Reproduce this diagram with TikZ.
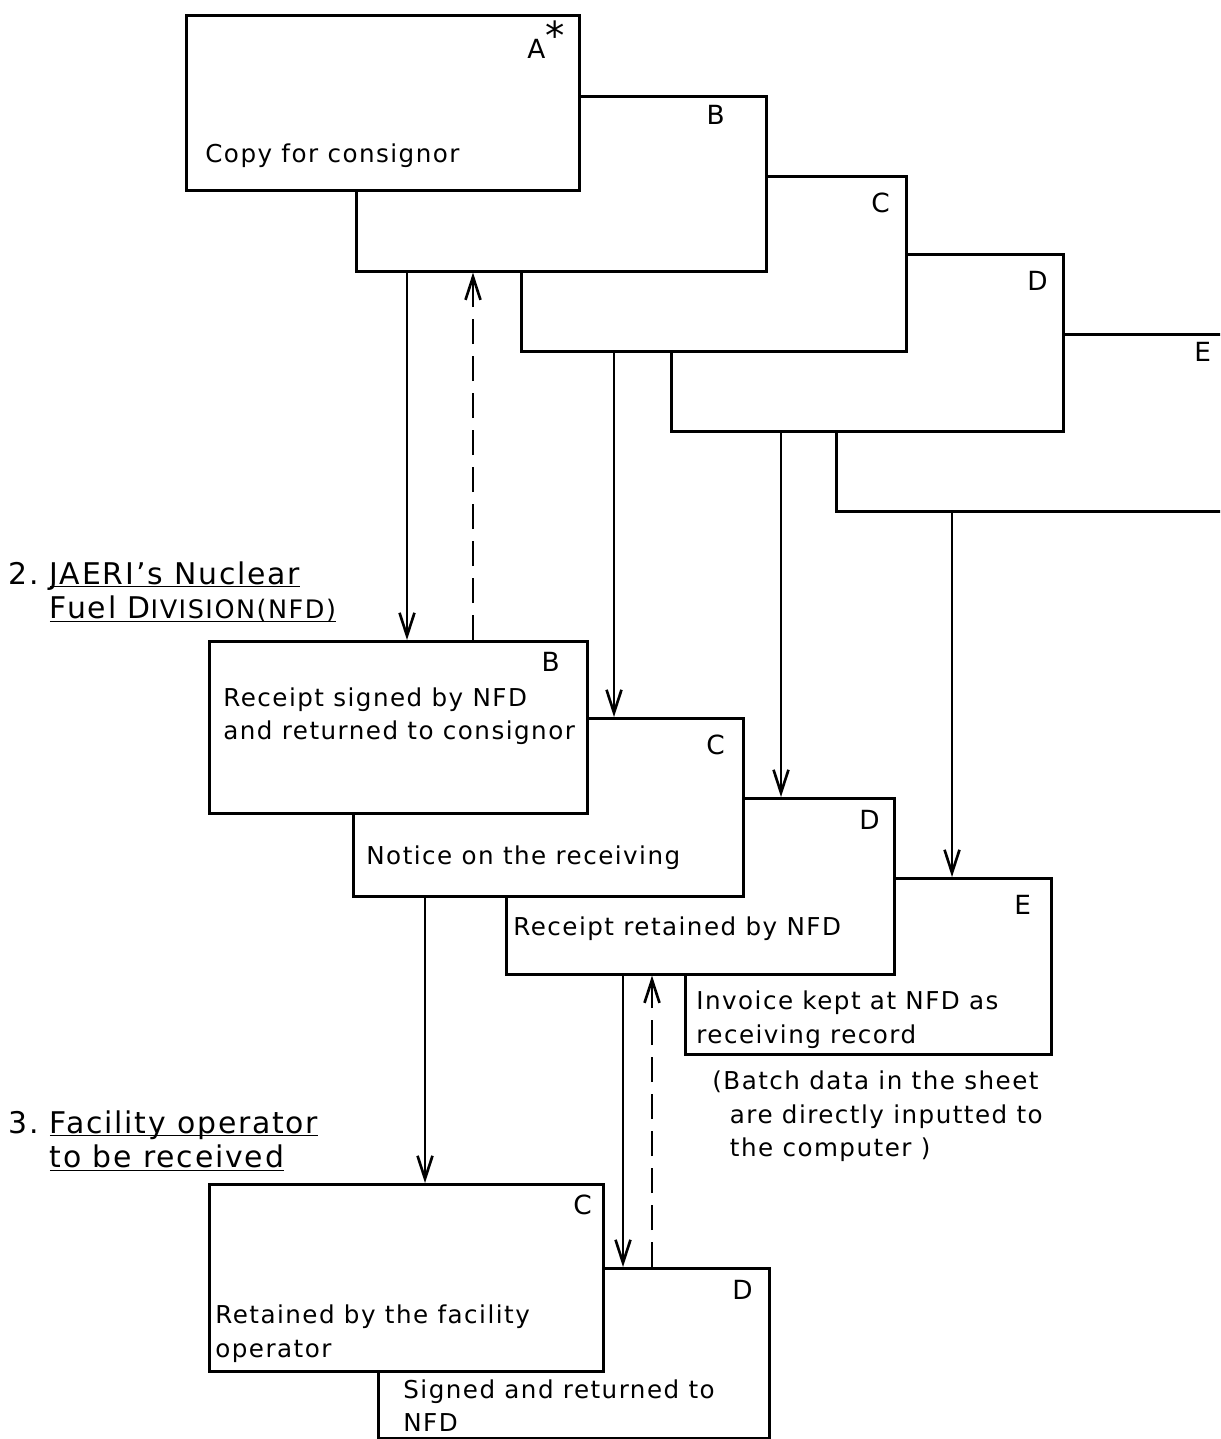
\documentclass[tikz,border=0pt]{standalone}
\usepackage{fontspec}
\setmainfont{DejaVu Sans}[LetterSpace=6]
\usetikzlibrary{arrows.meta,positioning,calc}

\newcommand{\undl}[1]{\underline{\smash{#1}}}

\begin{document}
\begin{tikzpicture}[
  x=0.02cm, y=-0.02cm,
  sheet/.style={draw, fill=white, line width=1.5pt, inner sep=0pt, anchor=north west},
  tag/.style={font=\fontsize{15}{15}\selectfont, inner sep=0pt},
  txt/.style={font=\fontsize{14}{19}\selectfont, align=left, inner sep=0pt, anchor=west},
  head/.style={font=\fontsize{17}{19.5}\selectfont, align=left, inner sep=0pt, anchor=west},
  arr/.style={line width=1.5pt, -{Straight Barb[length=4.6mm, width=3mm]}},
  back/.style={arr, dash pattern=on 5mm off 2.4mm}
]
\useasboundingbox (0,0) rectangle (1220,1439);
\clip (0,0) rectangle (1220,1439);

% 1. sheets as they leave the consignor
\node[sheet, minimum width=7.86cm, minimum height=3.54cm] (Et) at (835,333) {};
\node[sheet, minimum width=7.84cm, minimum height=3.54cm] (Dt) at (670,253) {};
\node[sheet, minimum width=7.70cm, minimum height=3.50cm] (Ct) at (520,175) {};
\node[sheet, minimum width=8.20cm, minimum height=3.50cm] (Bt) at (355,95) {};
\node[sheet, minimum width=7.86cm, minimum height=3.50cm] (A) at (185,14) {};
\node[txt] (copyA) at ($(A.south west)+(20,-36)$) {Copy for consignor};

% 2. at NFD
\node[head] (nfd) at (8,592)
  {2.\ \undl{JAERI's Nuclear}\\
   \hphantom{2.\ }\undl{Fuel D{\fontsize{14.5}{14.5}\selectfont IVISION(NFD)}}};

\node[sheet, minimum width=7.32cm, minimum height=3.52cm] (E2) at (684,877) {};
\node[sheet, minimum width=7.76cm, minimum height=3.52cm] (D2) at (505,797) {};
\node[sheet, minimum width=7.80cm, minimum height=3.56cm] (C2) at (352,717) {};
\node[sheet, minimum width=7.56cm, minimum height=3.44cm] (B2) at (208,640) {};

\node[txt] (recB) at ($(B2.north west)+(15,76)$)
  {Receipt signed by NFD\\and returned to consignor};
\node[txt] (notC) at ($(C2.south west)+(14,-40)$) {Notice on the receiving};
\node[txt] (recD) at ($(D2.south west)+(8,-47)$) {Receipt retained by NFD};
\node[txt] (invE) at ($(E2.south west)+(12,-36)$)
  {Invoice kept at NFD as\\receiving record};
\node[txt, anchor=north west] (batch) at ($(E2.south west)+(28,15)$)
  {(Batch data in the sheet\\
   \hspace*{10pt}are directly inputted to\\
   \hspace*{10pt}the computer )};

% 3. at the facility
\node[head] (fac) at (8,1141)
  {3.\ \undl{Facility operator}\\
   \hphantom{3.\ }\undl{to be received}};

\node[sheet, minimum width=7.82cm, minimum height=3.40cm] (D3) at (377,1267) {};
\node[sheet, minimum width=7.88cm, minimum height=3.74cm] (C3) at (208,1183) {};

\node[txt] (retC) at ($(C3.south west)+(7,-39)$)
  {Retained by the facility\\operator};
\node[txt] (sigD) at ($(D3.south west)+(26,-34)$)
  {Signed and returned to\\NFD};

\foreach \n/\l/\dx/\dy in {A/{A\textsuperscript{\fontsize{22}{22}\selectfont *}}/-34/26,
    Bt/B/-52/20, Ct/C/-27/28, Dt/D/-27/28, Et/E/-28/19, B2/B/-38/22,
    C2/C/-29/28, D2/D/-26/23, E2/E/-30/28, C3/C/-22/22, D3/D/-28/23}
  \node[tag] at ($(\n.north east)+(\dx,\dy)$) {\l};

\foreach \s/\t/\dx in {Bt/B2/52, Ct/C2/94, Dt/D2/111, Et/E2/117, C2/C3/73, D2/D3/118}
  \draw[arr] ($(\s.south west)+(\dx,0)$) coordinate (p) -- (p |- \t.north);

\foreach \s/\t/\dx in {B2/Bt/265, D3/D2/275}
  \draw[back] ($(\s.north west)+(\dx,0)$) coordinate (q) -- (q |- \t.south);
\end{tikzpicture}
\end{document}
